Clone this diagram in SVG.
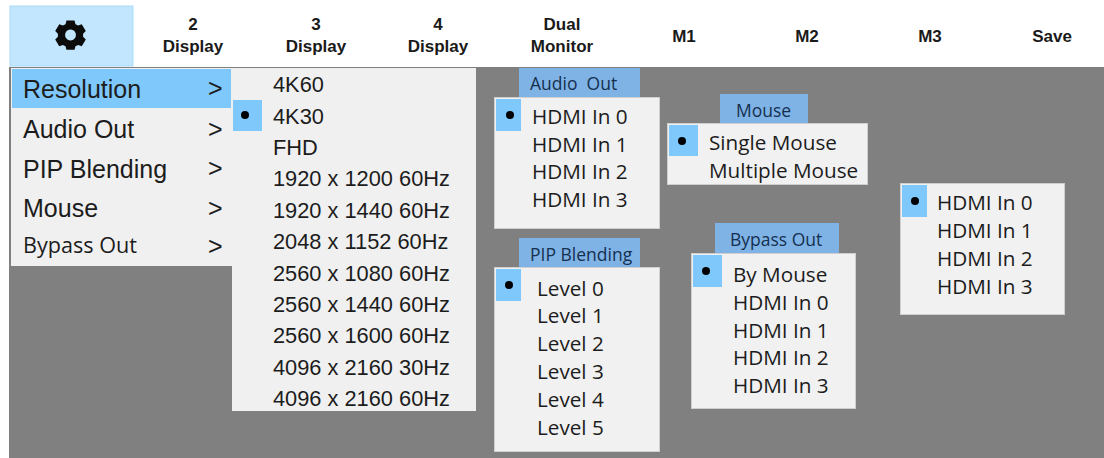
<svg xmlns="http://www.w3.org/2000/svg" width="1104" height="458" viewBox="0 0 1104 458">
<style>
text{font-family:"Liberation Sans",Arial,sans-serif;fill:#1c1c1c}
.tb{font-size:17px;font-weight:700;text-anchor:middle;fill:#1a1a1a}
.m{font-size:25px}
.l{font-size:21.800px}
.o{font-family:"Open Sans","Noto Sans",sans-serif;font-size:20.700px}
.t{font-family:"Open Sans","Noto Sans",sans-serif;font-size:17.500px;fill:#15304f}
.p{fill:#f1f1f1;stroke:#cfcfcf;stroke-width:1}
.h{fill:#7fb3e6}
.s{fill:#7ec8fb}
</style>
<rect width="1104" height="458" fill="#fff"/>
<rect x="9" y="67" width="1095" height="391" fill="#808080"/>
<g id="toolbar">
<rect x="10" y="6" width="123" height="60" fill="#c2e6fd" stroke="#a9dafa"/>
<path transform="translate(70.500 35) scale(.9) translate(-66.500 -37)" fill="#0c0c0c" fill-rule="evenodd" d="M62 21h9l1 4 3 1.500 4-1.500 4.500 7.500-3 3v3.500l3 3-4.500 7.500-4-1.500-3 1.500-1 4h-9l-1-4-3-1.500-4 1.500-4.500-7.500 3-3v-3.500l-3-3 4.500-7.500 4 1.500 3-1.500z M66.500 31a6 6 0 1 0 .01 0z"/>
<text class="tb" x="193" y="30">2</text><text class="tb" x="193" y="52">Display</text>
<text class="tb" x="316" y="30">3</text><text class="tb" x="316" y="52">Display</text>
<text class="tb" x="438" y="30">4</text><text class="tb" x="438" y="52">Display</text>
<text class="tb" x="562" y="30">Dual</text><text class="tb" x="562" y="52">Monitor</text>
<text class="tb" x="684" y="42">M1</text>
<text class="tb" x="807" y="42">M2</text>
<text class="tb" x="930" y="42">M3</text>
<text class="tb" x="1052" y="42">Save</text>
</g>
<g id="main-menu">
<rect x="11" y="68" width="221" height="198" fill="#f0f0f0"/>
<rect x="12" y="69" width="219" height="39" class="s"/>
<text class="m" x="23" y="98">Resolution</text><text class="m" x="208" y="97">&gt;</text>
<text class="m" x="23" y="138">Audio Out</text><text class="m" x="208" y="138">&gt;</text>
<text class="m" x="23" y="178">PIP Blending</text><text class="m" x="208" y="177">&gt;</text>
<text class="m" x="23" y="217">Mouse</text><text class="m" x="208" y="217">&gt;</text>
<text class="o" style="font-size:21.600px" x="23" y="253">Bypass Out</text><text class="m" x="208" y="255">&gt;</text>
</g>
<g id="resolution-menu">
<rect x="232" y="68" width="244" height="343" fill="#f0f0f0"/>
<rect x="233" y="100" width="29" height="31" class="s"/>
<circle cx="245" cy="115" r="4" fill="#000"/>
<text class="l" x="273" y="92">4K60</text>
<text class="l" x="273" y="124">4K30</text>
<text class="l" x="273" y="155">FHD</text>
<text class="l" x="273" y="186">1920 x 1200 60Hz</text>
<text class="l" x="273" y="218">1920 x 1440 60Hz</text>
<text class="l" x="273" y="249">2048 x 1152 60Hz</text>
<text class="l" x="273" y="281">2560 x 1080 60Hz</text>
<text class="l" x="273" y="312">2560 x 1440 60Hz</text>
<text class="l" x="273" y="343">2560 x 1600 60Hz</text>
<text class="l" x="273" y="375">4096 x 2160 30Hz</text>
<text class="l" x="273" y="406">4096 x 2160 60Hz</text>
</g>
<g id="audio-out">
<rect x="519" y="68" width="121" height="30" class="h"/>
<text class="t" x="530" y="90">Audio&#160; Out</text>
<rect x="494.500" y="97.500" width="165" height="131" class="p"/>
<rect x="496" y="99" width="25" height="32" class="s"/>
<circle cx="510" cy="115" r="4" fill="#000"/>
<text class="o" x="532" y="124">HDMI In 0</text>
<text class="o" x="532" y="152">HDMI In 1</text>
<text class="o" x="532" y="179">HDMI In 2</text>
<text class="o" x="532" y="207">HDMI In 3</text>
</g>
<g id="pip-blending">
<rect x="519" y="238" width="121" height="30" class="h"/>
<text class="t" x="530" y="261">PIP Blending</text>
<rect x="494.500" y="267.500" width="165" height="184" class="p"/>
<rect x="496" y="269" width="25" height="32" class="s"/>
<circle cx="509" cy="285" r="4" fill="#000"/>
<text class="o" x="537" y="296">Level 0</text>
<text class="o" x="537" y="323">Level 1</text>
<text class="o" x="537" y="351">Level 2</text>
<text class="o" x="537" y="379">Level 3</text>
<text class="o" x="537" y="407">Level 4</text>
<text class="o" x="537" y="435">Level 5</text>
</g>
<g id="mouse">
<rect x="720" y="94" width="88" height="31" class="h"/>
<text class="t" x="736" y="117">Mouse</text>
<rect x="667.500" y="123.500" width="200" height="61" class="p"/>
<rect x="669" y="125" width="29" height="31" class="s"/>
<circle cx="682" cy="141" r="4" fill="#000"/>
<text class="o" x="709" y="150">Single Mouse</text>
<text class="o" x="709" y="178">Multiple Mouse</text>
</g>
<g id="bypass-out">
<rect x="715" y="223" width="124" height="31" class="h"/>
<text class="t" x="730" y="246">Bypass Out</text>
<rect x="691.500" y="253.500" width="164" height="155" class="p"/>
<rect x="693" y="255" width="29" height="32" class="s"/>
<circle cx="706" cy="271" r="4" fill="#000"/>
<text class="o" x="733" y="282">By Mouse</text>
<text class="o" x="733" y="310">HDMI In 0</text>
<text class="o" x="733" y="338">HDMI In 1</text>
<text class="o" x="733" y="365">HDMI In 2</text>
<text class="o" x="733" y="393">HDMI In 3</text>
</g>
<g id="hdmi-menu">
<rect x="900.500" y="183.500" width="164" height="131" class="p"/>
<rect x="902" y="185" width="25" height="32" class="s"/>
<circle cx="915" cy="201" r="4" fill="#000"/>
<text class="o" x="937" y="210">HDMI In 0</text>
<text class="o" x="937" y="238">HDMI In 1</text>
<text class="o" x="937" y="266">HDMI In 2</text>
<text class="o" x="937" y="294">HDMI In 3</text>
</g>
</svg>
